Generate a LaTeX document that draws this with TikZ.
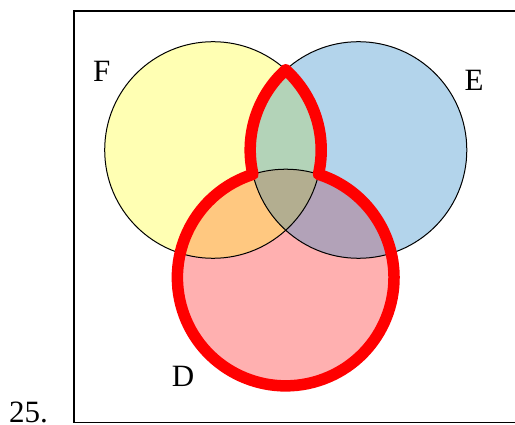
\documentclass[tikz,border=0pt]{standalone}
\usepackage{fontspec}
\setmainfont{Liberation Serif}

\definecolor{fyellow}{HTML}{FFFFB3}
\definecolor{eblue}{HTML}{B3D4EB}
\definecolor{dpink}{HTML}{FFB0B0}
\definecolor{fegreen}{HTML}{B3D3B8}
\definecolor{fdorange}{HTML}{FFC880}
\definecolor{edpurple}{HTML}{B2A2B8}
\definecolor{fedgray}{HTML}{B3AE90}

\tikzset{
  setline/.style={black, line width=1pt},
  shadeline/.style={red, line width=11.5pt, line join=round},
  setlabel/.style={font=\fontsize{31}{36}\selectfont, inner sep=0pt}
}

\begin{document}
\begin{tikzpicture}[x=1pt, y=1pt]
      \def\r{108.3}
      \useasboundingbox (0,0) rectangle (515,424);

      \coordinate (f) at (213,274);
      \coordinate (e) at (358.5,274);
      \coordinate (d) at (285.75,146.5);

      % universal set
      \draw[line width=1.5pt] (74,1.5) rectangle (530,413);

      % the sets
      \fill[fyellow] (f) circle (\r);
      \fill[eblue] (e) circle (\r);
      \fill[dpink] (d) circle (\r);
      \begin{scope}
        \clip (e) circle (\r);
        \fill[edpurple] (d) circle (\r);
      \end{scope}
      \begin{scope}
        \clip (f) circle (\r);
        \fill[fegreen] (e) circle (\r);
        \fill[fdorange] (d) circle (\r);
        \clip (e) circle (\r);
        \fill[fedgray] (d) circle (\r);
      \end{scope}
      \foreach \c in {f, e, d}
      \draw[setline] (\c) circle (\r);

      % the shaded region
      \draw[shadeline] (285.75,354.2)
        arc[start angle=132.2, end angle=192.97, radius=\r]
        arc[start angle=107.6, end angle=432.4, radius=\r]
        arc[start angle=-12.97, end angle=47.8, radius=\r] -- cycle;

      % labels
      \node[setlabel] (labelF) at (101.7,353) {F};
      \node[setlabel] (labelE) at (474,343.7) {E};
      \node[setlabel] (labelD) at (183,47.3) {D};
      \node[setlabel, anchor=base west] (number) at (9,2) {25.};
    \end{tikzpicture}
\end{document}
